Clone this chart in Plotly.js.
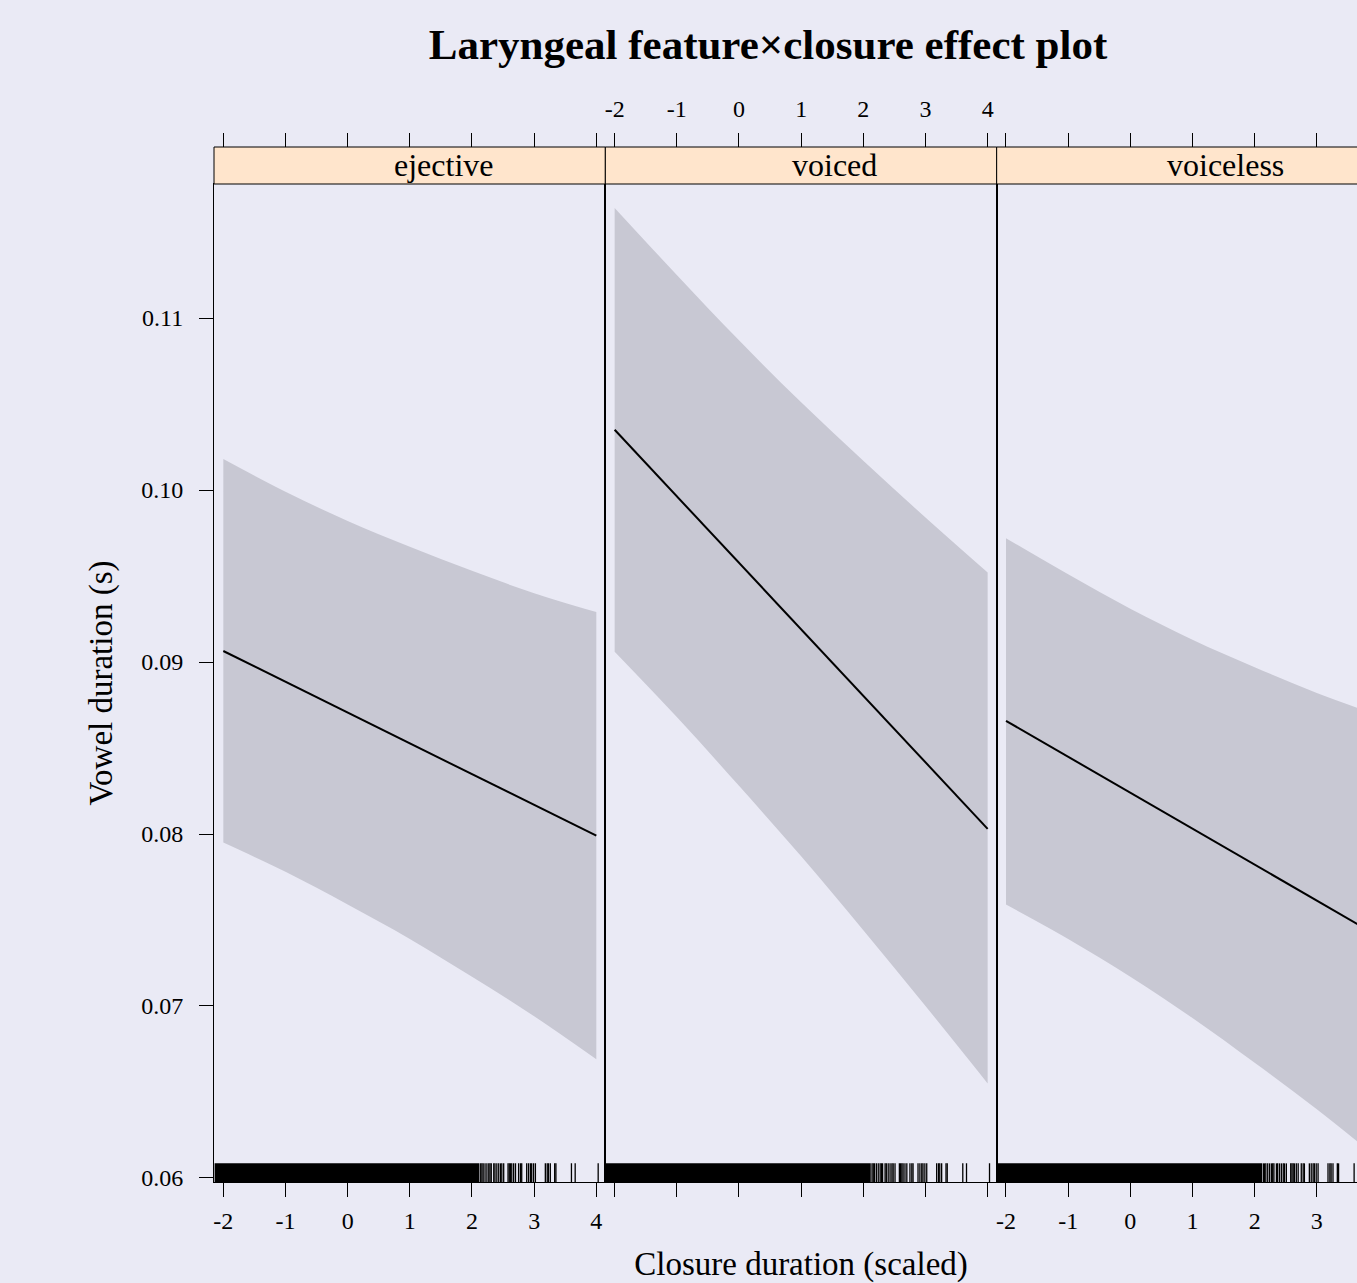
<!DOCTYPE html>
<html>
<head>
<meta charset="utf-8">
<script src="https://cdn.plot.ly/plotly-3.0.1.min.js"></script>
<style>
html, body { margin:0; padding:0; overflow:hidden; background:#EAEAF5; }
#chart { width:1400px; height:1283px; }
</style>
</head>
<body>
<div id="chart"></div>
<script>
// ---- data ----
const panels = ['ejective', 'voiced', 'voiceless'];
const xGrid = [-2, -1, 0, 1, 2, 3, 4];

const ejectiveFit   = [0.09064, 0.08885, 0.08706, 0.08527, 0.08348, 0.08169, 0.07990];
const ejectiveUpper = [0.1018, 0.0999, 0.0982, 0.0967, 0.0953, 0.0940, 0.0929];
const ejectiveLower = [0.0795, 0.0778, 0.0759, 0.0739, 0.0717, 0.0694, 0.0669];

const voicedFit   = [0.10350, 0.09963, 0.09576, 0.09189, 0.08803, 0.08416, 0.08030];
const voicedUpper = [0.1164, 0.1125, 0.1087, 0.1051, 0.1017, 0.0984, 0.0952];
const voicedLower = [0.0906, 0.0868, 0.0828, 0.0787, 0.0744, 0.0700, 0.0655];

const voicelessFit   = [0.08658, 0.08449, 0.08240, 0.08031, 0.07822, 0.07613, 0.07404];
const voicelessUpper = [0.0972, 0.0951, 0.0931, 0.0913, 0.0897, 0.0882, 0.0869];
const voicelessLower = [0.0759, 0.0739, 0.0717, 0.0693, 0.0667, 0.0640, 0.0611];

// rug: a solid run of observations, then individual ones
const rugSolid = [-2.14, 2.12];
const rugTicks = [2.14, 2.16, 2.18, 2.21, 2.24, 2.27, 2.29, 2.31, 2.35, 2.37, 2.40, 2.43, 2.46, 2.48, 2.51,
                  2.58, 2.60, 2.62, 2.64, 2.67, 2.70, 2.75, 2.78, 2.80,
                  2.88, 2.91, 2.94, 2.96, 2.99, 3.02,
                  3.18, 3.21, 3.23, 3.26, 3.33, 3.35, 3.60, 3.66, 4.03];

const xTickVals = [-2, -1, 0, 1, 2, 3, 4];
const xTickText = ['-2', '-1', '0', '1', '2', '3', '4'];
const yTickVals = [0.06, 0.07, 0.08, 0.09, 0.10, 0.11];
const yTickText = ['0.06', '0.07', '0.08', '0.09', '0.10', '0.11'];

const chartTitle = 'Laryngeal feature×closure effect plot';
const xTitle = 'Closure duration (scaled)';
const yTitle = 'Vowel duration (s)';

// ---- styling ----
const BG = '#EAEAF5';
const BAND = '#C8C8D3';
const STRIP = '#FFE5CC';
const FONT = 'Liberation Serif, Times New Roman, serif';
const xRange = [-2.15, 4.145];
const yRange = [0.059767, 0.117791];
const D = 998 / 1035;          // top of panel area (strip sits above it)

const fits = [ejectiveFit, voicedFit, voicelessFit];
const uppers = [ejectiveUpper, voicedUpper, voicelessUpper];
const lowers = [ejectiveLower, voicedLower, voicelessLower];

const traces = [];
const shapes = [];
const annotations = [];

panels.forEach((name, i) => {
  const xa = i === 0 ? 'x' : 'x' + (i + 1);
  const ya = i === 0 ? 'y' : 'y' + (i + 1);
  traces.push({x: xGrid, y: lowers[i], xaxis: xa, yaxis: ya, type: 'scatter', mode: 'lines',
               line: {width: 0, shape: 'spline', smoothing: 1, color: BAND}, hoverinfo: 'skip'});
  traces.push({x: xGrid, y: uppers[i], xaxis: xa, yaxis: ya, type: 'scatter', mode: 'lines',
               line: {width: 0, shape: 'spline', smoothing: 1, color: BAND}, fill: 'tonexty', fillcolor: BAND, hoverinfo: 'skip'});
  traces.push({x: xGrid, y: fits[i], xaxis: xa, yaxis: ya, type: 'scatter', mode: 'lines',
               line: {width: 2, color: '#000000'}, name: name});
  // invisible trace for the top axis
  traces.push({x: xTickVals, y: xTickVals.map(() => null), xaxis: 'x' + (i + 4), yaxis: ya,
               type: 'scatter', mode: 'markers', showlegend: false, hoverinfo: 'skip'});

  // rug
  shapes.push({type: 'rect', xref: xa, yref: ya + ' domain', x0: rugSolid[0], x1: rugSolid[1],
               y0: 0, y1: 0.0187, fillcolor: '#000000', line: {width: 0}, layer: 'above'});
  rugTicks.forEach(v => {
    shapes.push({type: 'line', xref: xa, yref: ya + ' domain', x0: v, x1: v, y0: 0, y1: 0.0187,
                 line: {color: '#000000', width: 1.3}, layer: 'above'});
  });
  // strip
  shapes.push({type: 'rect', xref: xa + ' domain', yref: 'paper', x0: 0, x1: 1, y0: D, y1: 1,
               fillcolor: STRIP, line: {color: '#000000', width: 1}, layer: 'above'});
  annotations.push({text: name, xref: xa + ' domain', yref: 'paper', x: 0.586, y: (D + 1) / 2,
                    xanchor: 'center', yanchor: 'middle', showarrow: false,
                    font: {family: FONT, size: 32, color: '#000'}});
});

function bottomAxis(i, labels, vals) {
  return {
    domain: [i / 3, (i + 1) / 3], range: xRange, anchor: i === 0 ? 'y' : 'y' + (i + 1),
    showgrid: false, zeroline: false, showline: true, mirror: true, linecolor: '#000', linewidth: 1,
    ticks: 'outside', ticklen: 14, tickwidth: 1, tickcolor: '#000',
    tickvals: vals || xTickVals, ticktext: vals ? xTickText.slice(0, vals.length) : xTickText,
    showticklabels: labels,
    tickfont: {family: FONT, size: 24, color: '#000'}, ticklabelstandoff: 3, automargin: false
  };
}
function topAxis(i, labels) {
  return {
    overlaying: i === 0 ? 'x' : 'x' + (i + 1), side: 'top', anchor: 'free', position: 1,
    range: xRange, showgrid: false, zeroline: false, showline: true, linecolor: '#000', linewidth: 1,
    ticks: 'outside', ticklen: 14, tickwidth: 1, tickcolor: '#000',
    tickvals: xTickVals, ticktext: xTickText, showticklabels: labels,
    tickfont: {family: FONT, size: 24, color: '#000'}, ticklabelstandoff: 6, automargin: false
  };
}
function leftAxis(i, labels) {
  return {
    domain: [0, D], range: yRange, anchor: i === 0 ? 'x' : 'x' + (i + 1),
    showgrid: false, zeroline: false, showline: true, mirror: true, linecolor: '#000', linewidth: 1,
    ticks: labels ? 'outside' : '', ticklen: 14, tickwidth: 1, tickcolor: '#000',
    tickvals: yTickVals, ticktext: yTickText, showticklabels: labels,
    tickfont: {family: FONT, size: 24, color: '#000'}, ticklabelstandoff: 11, automargin: false
  };
}

// third panel: its last tick (x = 4) falls beyond the visible page, so only -2..3 get labels
const visibleThirdTicks = xTickVals.filter(v => v <= 3);

const layout = {
  width: 1400, height: 1283,
  margin: {l: 214, r: 12, t: 147, b: 101, pad: 0},
  paper_bgcolor: BG, plot_bgcolor: BG,
  showlegend: false,
  font: {family: FONT, color: '#000', size: 24},
  title: {text: chartTitle, font: {family: FONT, size: 43, weight: 'bold', color: '#000'},
          xref: 'container', x: 768 / 1400, xanchor: 'center',
          yref: 'container', y: 1 - 44 / 1283, yanchor: 'middle'},
  xaxis: bottomAxis(0, true),
  xaxis2: Object.assign(bottomAxis(1, false),
           {title: {text: xTitle, font: {family: FONT, size: 33, color: '#000'}, standoff: 62}}),
  xaxis3: bottomAxis(2, true, visibleThirdTicks),
  xaxis4: topAxis(0, false),
  xaxis5: topAxis(1, true),
  xaxis6: topAxis(2, false),
  yaxis: Object.assign(leftAxis(0, true),
           {title: {text: yTitle, font: {family: FONT, size: 33, color: '#000'}, standoff: 18}}),
  yaxis2: leftAxis(1, false),
  yaxis3: leftAxis(2, false),
  shapes: shapes,
  annotations: annotations
};

Plotly.newPlot('chart', traces, layout, {displayModeBar: false, responsive: false, staticPlot: true});
</script>
</body>
</html>
